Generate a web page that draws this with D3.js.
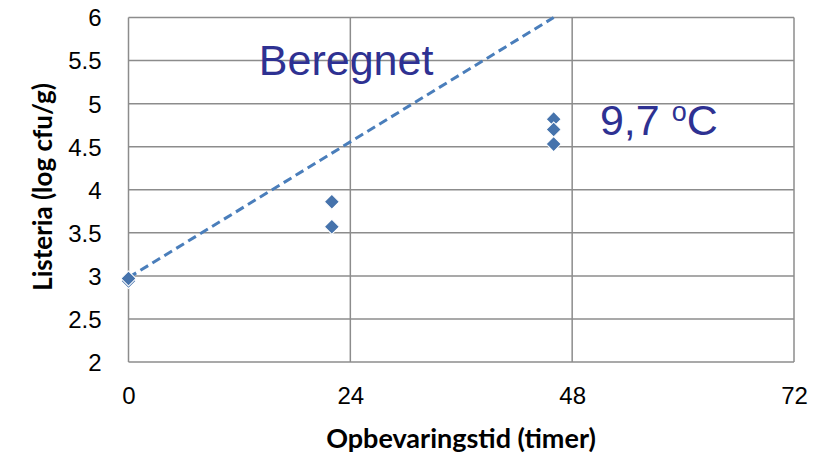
<!DOCTYPE html>
<meta charset="utf-8">
<style>
body { margin: 0; background: #fff; font-family: Lato, "Open Sans", sans-serif; }
.grid line { stroke: #8c8c8c; stroke-width: 1.5; }
.tick text { font-size: 24px; fill: #000; }
</style>
<body>
<script src="https://d3js.org/d3.v7.min.js"></script>
<script>

// Measured points: storage time (hours) and Listeria (log cfu/g)
var hours   = [0, 0, 22, 22, 46, 46, 46];
var listeria = [2.94, 2.97, 3.86, 3.57, 4.82, 4.70, 4.53];

// Calculated growth line (Beregnet)
var calcHours = [0, 46];
var calcLog   = [2.98, 6.0];

var xTicks = [0, 24, 48, 72];
var yTicks = [2, 2.5, 3, 3.5, 4, 4.5, 5, 5.5, 6];

var margin = {top: 17.5, right: 29, bottom: 97, left: 128.5},
    width = 823 - margin.left - margin.right,
    height = 459 - margin.top - margin.bottom;

var x = d3.scaleLinear().domain([0, 72]).range([0, width]);
var y = d3.scaleLinear().domain([2, 6]).range([height, 0]);

var svg = d3.select("body")
    .append("svg")
        .attr("width", 823)
        .attr("height", 459)
    .append("g")
        .attr("transform", "translate(" + margin.left + "," + margin.top + ")");

// grid lines
var grid = svg.append("g").attr("class", "grid");
grid.selectAll(".hl")
    .data(yTicks)
  .enter().append("line")
    .attr("x1", 0).attr("x2", width)
    .attr("y1", function(d) { return y(d); })
    .attr("y2", function(d) { return y(d); });
grid.selectAll(".vl")
    .data(xTicks)
  .enter().append("line")
    .attr("y1", 0).attr("y2", height)
    .attr("x1", function(d) { return x(d); })
    .attr("x2", function(d) { return x(d); });

// axes (labels only)
var yAxis = d3.axisLeft(y).tickValues(yTicks).tickSize(0).tickPadding(27)
    .tickFormat(function(d) { return String(d); });
var xAxis = d3.axisBottom(x).tickValues(xTicks).tickSize(0).tickPadding(25)
    .tickFormat(d3.format("d"));

svg.append("g").call(yAxis).call(function(g) { g.select(".domain").remove(); })
    .selectAll("text").attr("dy", "0.35em");
svg.append("g").attr("transform", "translate(0," + height + ")")
    .call(xAxis).call(function(g) { g.select(".domain").remove(); });

// calculated line
var calc = calcHours.map(function(h, i) { return [h, calcLog[i]]; });
svg.append("path")
    .datum(calc)
    .attr("fill", "none")
    .attr("stroke", "#4a7ebb")
    .attr("stroke-width", 3)
    .attr("stroke-dasharray", "9,5")
    .attr("d", d3.line()
        .x(function(d) { return x(d[0]); })
        .y(function(d) { return y(d[1]); }));

// measured points (square turned 45 degrees)
var marker = d3.symbol().type(d3.symbolSquare).size(112);
svg.selectAll(".pt")
    .data(hours.map(function(h, i) { return [h, listeria[i]]; }))
  .enter().append("path")
    .attr("d", marker)
    .attr("transform", function(d) { return "translate(" + x(d[0]) + "," + y(d[1]) + ") rotate(45)"; })
    .attr("fill", "#4673ac")
    .attr("stroke", "#fff")
    .attr("stroke-width", 1);

// annotations
svg.append("text")
    .attr("x", x(14.1))
    .attr("y", y(5.33))
    .attr("font-family", "Liberation Sans, Arial, sans-serif")
    .attr("font-size", 43)
    .attr("fill", "#2e3192")
    .text("Beregnet");

var t = svg.append("text")
    .attr("x", x(51.0))
    .attr("y", y(4.63))
    .attr("font-family", "Liberation Sans, Arial, sans-serif")
    .attr("font-size", 43)
    .attr("fill", "#2e3192");
t.append("tspan").text("9,7 ");
t.append("tspan").attr("font-size", 27).attr("dy", -14).text("o");
t.append("tspan").attr("dy", 14).text("C");

// axis titles
svg.append("text")
    .attr("text-anchor", "middle")
    .attr("x", 461 - margin.left)
    .attr("y", 448 - margin.top)
    .attr("font-size", 27)
    .attr("font-weight", "bold")
    .text("Opbevaringstid (timer)");

svg.append("text")
    .attr("text-anchor", "middle")
    .attr("transform", "rotate(-90)")
    .attr("x", -(187 - margin.top))
    .attr("y", 52 - margin.left)
    .attr("font-size", 26)
    .attr("font-weight", "bold")
    .text("Listeria (log cfu/g)");

</script>
</body>
